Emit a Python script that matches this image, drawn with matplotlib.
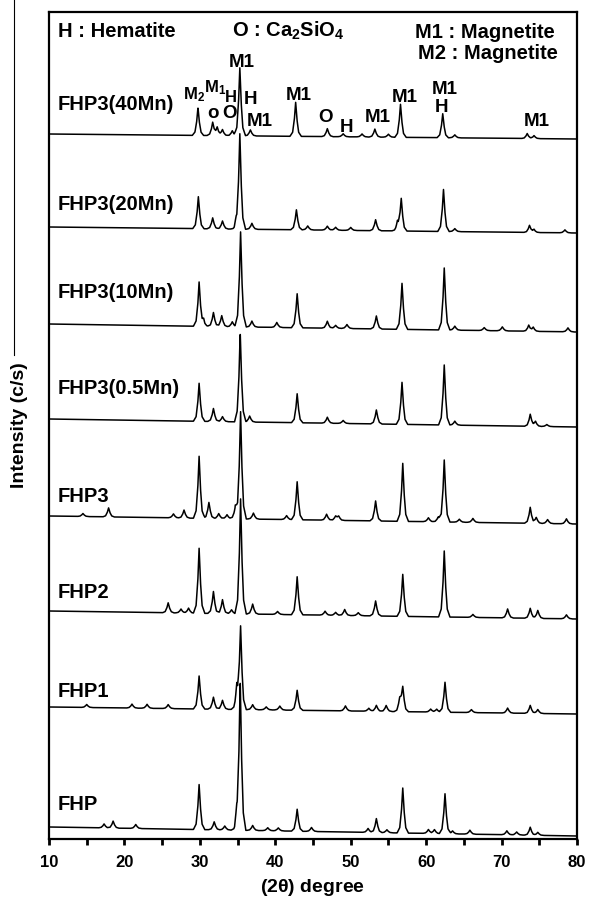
# -*- coding: utf-8 -*-
"""
XRD patterns of the FHP series (stacked), with phase labels on the top trace
"""

import numpy as np
import matplotlib
matplotlib.use('Agg')
import matplotlib.pyplot as plt
from matplotlib.lines import Line2D


#################### Data

samples = ['FHP', 'FHP1', 'FHP2', 'FHP3',
           'FHP3(0.5Mn)', 'FHP3(10Mn)', 'FHP3(20Mn)', 'FHP3(40Mn)']

### Background level of each stacked trace at 10 deg and at 80 deg (c/s)
bg_start = [12, 132, 228, 323, 420, 515, 612, 705]
bg_end   = [3, 125, 220, 315, 412, 507, 606, 700]

### Peaks: 2theta (deg) and height above background (c/s)
fhp_pos = [17.3, 18.5, 21.5, 29.9, 31.9, 33.3, 34.9, 35.35, 37.0, 39.0, 40.4,
           42.9, 44.8, 52.3, 53.4, 54.8, 56.9, 60.3, 61.1, 62.5, 63.5, 65.8,
           70.7, 72.0, 73.8, 74.8]
fhp_int = [4, 7, 4, 45, 8, 4, 12, 150, 5, 3, 3,
           22, 4, 4, 14, 3, 45, 4, 4, 40, 3, 4,
           4, 3, 8, 3]

fhp1_pos = [15.0, 21.0, 23.0, 25.8, 29.9, 31.8, 33.0, 34.9, 35.4, 37.0, 38.8,
            40.6, 42.9, 49.3, 52.4, 53.4, 54.7, 56.5, 56.9, 60.6, 61.4, 62.5,
            66.0, 70.8, 73.8, 74.8]
fhp1_int = [3, 4, 4, 4, 33, 12, 9, 20, 82, 5, 3,
            4, 20, 5, 3, 6, 6, 12, 24, 3, 3, 30,
            3, 5, 8, 4]

fhp2_pos = [25.8, 27.5, 28.5, 29.9, 31.8, 33.0, 34.2, 35.4, 37.0, 40.3, 42.9,
            46.6, 48.0, 49.2, 51.0, 53.3, 56.9, 62.4, 66.2, 70.8, 73.8, 74.8,
            78.6]
fhp2_int = [10, 4, 5, 65, 22, 14, 4, 115, 10, 3, 38,
            4, 3, 6, 3, 15, 42, 66, 3, 9, 10, 8,
            4]

fhp3_pos = [14.5, 17.9, 26.5, 27.9, 29.9, 31.2, 32.5, 33.6, 34.7, 35.4, 37.1,
            41.5, 42.9, 46.8, 48.0, 48.4, 53.3, 56.9, 60.3, 61.6, 62.4, 64.4,
            66.2, 73.8, 74.6, 76.1, 78.6]
fhp3_int = [3, 9, 4, 8, 62, 16, 5, 4, 12, 107, 6,
            4, 38, 6, 4, 4, 20, 58, 4, 5, 62, 3,
            4, 16, 6, 4, 5]

mn05_pos = [29.9, 31.8, 33.0, 35.35, 36.6, 42.9, 46.9, 49.0, 53.4, 56.8, 62.4,
            63.8, 73.8, 74.5, 76.0]
mn05_int = [38, 13, 5, 90, 6, 29, 6, 3, 14, 42, 60,
            4, 12, 5, 2]

mn10_pos = [29.9, 30.5, 31.8, 32.9, 34.3, 35.4, 36.9, 40.2, 42.9, 46.9, 48.0,
            49.5, 53.4, 56.8, 62.4, 63.8, 67.7, 70.1, 73.6, 74.2, 78.8]
mn10_int = [44, 6, 14, 11, 5, 95, 6, 5, 34, 7, 3,
            4, 13, 46, 62, 4, 3, 4, 6, 4, 4]

mn20_pos = [29.8, 31.7, 33.0, 34.8, 35.3, 36.9, 42.8, 44.3, 46.9, 48.0, 50.0,
            53.3, 56.2, 56.7, 62.3, 63.8, 73.7, 74.3, 78.4]
mn20_int = [32, 11, 8, 5, 95, 6, 20, 4, 4, 3, 3,
            11, 8, 32, 42, 3, 7, 3, 3]

mn40_pos = [29.75, 31.7, 32.3, 33.0, 34.3, 35.3, 36.7, 42.7, 46.9, 49.0, 51.5,
            53.2, 55.0, 56.6, 62.2, 63.8, 73.4, 74.3]
mn40_int = [28, 13, 8, 6, 5, 68, 6, 34, 8, 3, 3,
            8, 3, 33, 24, 3, 5, 3]

peak_pos = [fhp_pos, fhp1_pos, fhp2_pos, fhp3_pos, mn05_pos, mn10_pos, mn20_pos, mn40_pos]
peak_int = [fhp_int, fhp1_int, fhp2_int, fhp3_int, mn05_int, mn10_int, mn20_int, mn40_int]


#################### Plot parameters

plt.rcParams['font.family'] = ['Liberation Sans', 'DejaVu Sans']
plt.rcParams['font.weight'] = 'bold'
plt.rcParams['mathtext.fontset'] = 'custom'
plt.rcParams['mathtext.bf'] = 'Liberation Sans:bold'
plt.rcParams['mathtext.rm'] = 'Liberation Sans:bold'
plt.rcParams['mathtext.default'] = 'bf'

size_label = 14.5
size_peak = 13.5
size_cluster = 12   # crowded labels near 30-34 deg
size_tick = 12

line_color = 'black'
line_width = 1.1

# peak profile (offset in deg -> fraction of height)
prof_dx = [-0.75, -0.4, -0.17, 0.0, 0.17, 0.4, 0.75]
prof_fr = [0.0, 0.12, 0.5, 1.0, 0.5, 0.12, 0.0]


#################### Figure

fig = plt.figure(figsize=(5.9, 9.03), dpi=100)
ax = fig.add_axes((49/590, 63/903, 528/590, 827/903))

tt = np.arange(10, 80.0001, 0.02)

for k, name in enumerate(samples):
    y = bg_start[k] + (bg_end[k] - bg_start[k]) * (tt - 10) / 70
    for p, h in zip(peak_pos[k], peak_int[k]):
        y = y + h * np.interp(tt - p, prof_dx, prof_fr)
    ax.plot(tt, y, color=line_color, lw=line_width)

### Sample names
name_y = [35, 148, 247, 343, 451, 547, 635, 735]
for k, name in enumerate(samples):
    ax.text(11.2, name_y[k], name, fontsize=size_label, fontweight='bold',
            ha='left', va='center')

### Legend texts
ax.text(11.2, 809, 'H : Hematite', fontsize=size_label, ha='left', va='center')
ax.text(34.3, 809, 'O : Ca$_2$SiO$_4$', fontsize=size_label, ha='left', va='center')
ax.text(77.0, 808, 'M1 : Magnetite', fontsize=size_label, ha='right', va='center')
ax.text(77.4, 787, 'M2 : Magnetite', fontsize=size_label, ha='right', va='center')

### Peak labels on the top trace
ax.text(27.75, 741, 'M$_2$', fontsize=size_cluster, ha='left', va='baseline')
ax.text(30.55, 748, 'M$_1$', fontsize=size_cluster, ha='left', va='baseline')
ax.text(33.35, 738, 'H', fontsize=size_cluster, ha='left', va='baseline')
ax.text(31.75, 727, 'o', fontsize=size_peak, ha='center', va='center')
ax.text(33.9, 726, 'O', fontsize=size_peak, ha='center', va='center')
ax.text(35.6, 778, 'M1', fontsize=size_peak, ha='center', va='center')
ax.text(36.75, 740, 'H', fontsize=size_peak, ha='center', va='center')
ax.text(38.0, 719, 'M1', fontsize=size_peak, ha='center', va='center')
ax.text(43.1, 745, 'M1', fontsize=size_peak, ha='center', va='center')
ax.text(46.6, 723, 'O', fontsize=size_peak, ha='center', va='center')
ax.text(49.5, 713, 'H', fontsize=size_peak, ha='center', va='center')
ax.text(53.6, 723, 'M1', fontsize=size_peak, ha='center', va='center')
ax.text(57.2, 743, 'M1', fontsize=size_peak, ha='center', va='center')
ax.text(62.5, 751, 'M1', fontsize=size_peak, ha='center', va='center')
ax.text(62.1, 733, 'H', fontsize=size_peak, ha='center', va='center')
ax.text(74.6, 719, 'M1', fontsize=size_peak, ha='center', va='center')


#################### Axes styling

ax.set_xlim(10, 80)
ax.set_ylim(0, 827)
ax.set_xticks(np.arange(10, 81, 10))
ax.set_xticks(np.arange(15, 80, 10), minor=True)
ax.set_yticks([])
ax.tick_params(axis='x', which='major', direction='out', length=4, width=2,
               labelsize=size_tick, pad=7)
ax.tick_params(axis='x', which='minor', direction='out', length=4, width=2)
for lab in ax.get_xticklabels():
    lab.set_fontweight('bold')
for sp in ax.spines.values():
    sp.set_linewidth(1.6)

ax.set_xlabel(r'(2$\theta$) degree', fontsize=14, fontweight='bold', labelpad=5)
fig.text(20/590, 1 - 425/903, 'Intensity (c/s)', rotation=90, fontsize=14,
         fontweight='bold', ha='center', va='center')

# thin frame line on the far left
fig.add_artist(Line2D([14/590, 14/590], [1.0, 1 - 356/903],
                      transform=fig.transFigure, color='black', lw=0.8))


#################### Save

fig.savefig('out.png', dpi=100)
